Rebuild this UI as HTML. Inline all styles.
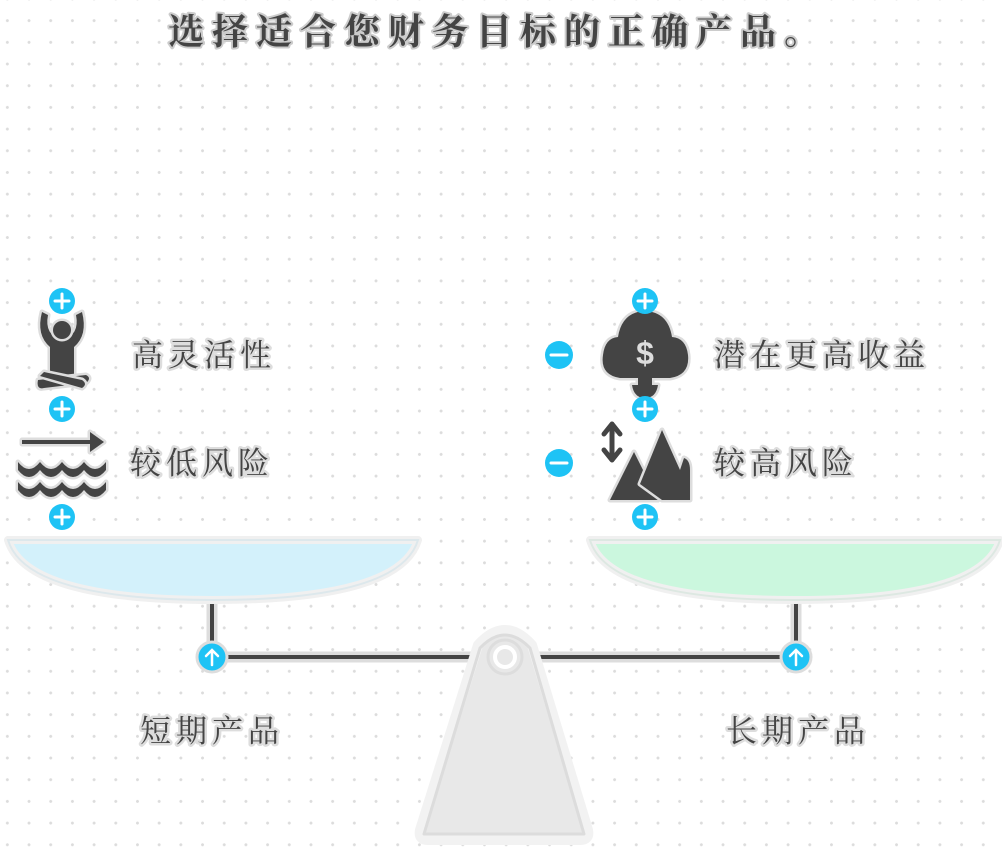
<!DOCTYPE html>
<html><head><meta charset="utf-8"><style>
html,body{margin:0;padding:0;background:#fff;}
body{width:1002px;height:851px;overflow:hidden;position:relative;
background-image:radial-gradient(circle,#dcdcdc 1.3px,transparent 1.6px);
background-size:21.7px 21.7px;background-position:-3.5px 9.8px;}
svg{position:absolute;left:0;top:0}
text{font-family:"Liberation Serif","Noto Serif CJK SC",serif;fill:#444;paint-order:stroke;stroke:#ddd;stroke-width:5px;stroke-linejoin:round}
</style></head><body>
<svg width="1002" height="851" viewBox="0 0 1002 851">
<text x="168" y="44" font-size="36" font-weight="bold" letter-spacing="8" style="fill:#444;stroke:#ccc;stroke-width:4px">选择适合您财务目标的正确产品。</text>
<g stroke-linecap="round">
<path d="M212 600V657H796V600" fill="none" stroke="#ddd" stroke-width="11"/>
<path d="M212 600V657H796V600" fill="none" stroke="#444" stroke-width="4"/>
</g>
<path d="M8 540 H418 Q400 600 213 600 Q26 600 8 540Z" fill="#d3f1fb" stroke="#f0f0f0" stroke-width="8" stroke-linejoin="round"/>
<path d="M8 540 H418 Q400 600 213 600 Q26 600 8 540Z" fill="none" stroke="#dde8ec" stroke-width="2"/>
<path d="M590 540 H1000 Q982 600 795 600 Q608 600 590 540Z" fill="#cbf7de" stroke="#f0f0f0" stroke-width="8" stroke-linejoin="round"/>
<path d="M590 540 H1000 Q982 600 795 600 Q608 600 590 540Z" fill="none" stroke="#dde8e2" stroke-width="2"/>
<path d="M478 645 Q505 615 532 645 L588 830 Q590 840 580 840 H428 Q418 840 420 830 Z" fill="#e8e8e8" stroke="#f2f2f2" stroke-width="10" stroke-linejoin="round"/>
<path d="M480 648 Q505 622 530 648 L584 834 H424 Z" fill="none" stroke="#dcdcdc" stroke-width="3" stroke-linejoin="round"/>
<circle cx="505" cy="657" r="17" fill="#e8e8e8" stroke="#ddd" stroke-width="3"/>
<circle cx="505" cy="657" r="10" fill="#e8e8e8" stroke="#fff" stroke-width="4"/>
<g>
<circle cx="212" cy="657" r="15" fill="#1ec3f5" stroke="#ddd" stroke-width="3"/>
<path d="M212 665V650M206 656L212 650L218 656" stroke="#fff" stroke-width="2.5" fill="none" stroke-linecap="round"/>
<circle cx="796" cy="657" r="15" fill="#1ec3f5" stroke="#ddd" stroke-width="3"/>
<path d="M796 665V650M790 656L796 650L802 656" stroke="#fff" stroke-width="2.5" fill="none" stroke-linecap="round"/>
</g>
<g fill="#444" stroke="#ddd" stroke-width="5" paint-order="stroke" stroke-linejoin="round">
<path d="M42 312 Q36 335 50 347 V375 H74 V347 Q88 335 82 312 L76 315 Q80 335 62 340 Q44 335 48 315Z"/>
<circle cx="62" cy="330" r="9"/>
<path d="M38 380 Q36 390 44 388 L86 383 Q92 378 86 375 Z"/>
<path d="M40 376 L82 388 Q88 384 82 380 L44 372Z"/>
<path d="M22 440 H90 V432 L104 442 L90 452 V444 H22Z"/>
<path d="M18 462 q11 14 22 0 q11 14 22 0 q11 14 22 0 q11 14 22 0 v8 q-11 14 -22 0 q-11 14 -22 0 q-11 14 -22 0 q-11 14 -22 0z"/>
<path d="M18 482 q11 14 22 0 q11 14 22 0 q11 14 22 0 q11 14 22 0 v8 q-11 14 -22 0 q-11 14 -22 0 q-11 14 -22 0 q-11 14 -22 0z"/>
</g>
<g fill="#444" stroke="#ddd" stroke-width="5" paint-order="stroke" stroke-linejoin="round">
<path d="M620 378 Q600 375 603 355 Q605 338 618 337 Q622 312 645 311 Q668 312 672 337 Q686 338 688 355 Q690 375 670 378 H652 V385 L658 385 Q656 398 645 398 Q634 398 632 385 L638 385 V378Z"/>
<path d="M610 500 L634 452 L658 500Z"/>
<path d="M640 484 L662 430 L680 470 L684 458 Q690 460 690 470 L690 500 H662Z"/>
<path d="M612 426 V458 M604 434 L612 424 L620 434 M604 450 L612 460 L620 450" fill="none" stroke="#444" stroke-width="5" stroke-linecap="round"/>
</g>
<text x="645" y="364" font-size="32" font-weight="bold" text-anchor="middle" style="fill:#ddd;stroke:none;font-family:'Liberation Sans',sans-serif">$</text>
<g>
<g fill="#1ec3f5"><circle cx="62" cy="301" r="13"/><circle cx="62" cy="409" r="13"/><circle cx="62" cy="517" r="13"/><circle cx="645" cy="301" r="13"/><circle cx="645" cy="409" r="13"/><circle cx="645" cy="517" r="13"/><circle cx="559" cy="355" r="14"/><circle cx="559" cy="463" r="14"/></g>
<g stroke="#fff" stroke-width="3" stroke-linecap="round">
<path d="M55 301H69M62 294V308M55 409H69M62 402V416M55 517H69M62 510V524"/>
<path d="M638 301H652M645 294V308M638 409H652M645 402V416M638 517H652M645 510V524"/>
<path d="M551 355H567M551 463H567"/>
</g>
</g>
<text x="132" y="366" font-size="31" letter-spacing="5">高灵活性</text>
<text x="130" y="474" font-size="31" letter-spacing="5">较低风险</text>
<text x="714" y="366" font-size="31" letter-spacing="5">潜在更高收益</text>
<text x="714" y="474" font-size="31" letter-spacing="5">较高风险</text>
<text x="140" y="742" font-size="31" letter-spacing="5">短期产品</text>
<text x="726" y="742" font-size="31" letter-spacing="5">长期产品</text>
</svg>
</body></html>
